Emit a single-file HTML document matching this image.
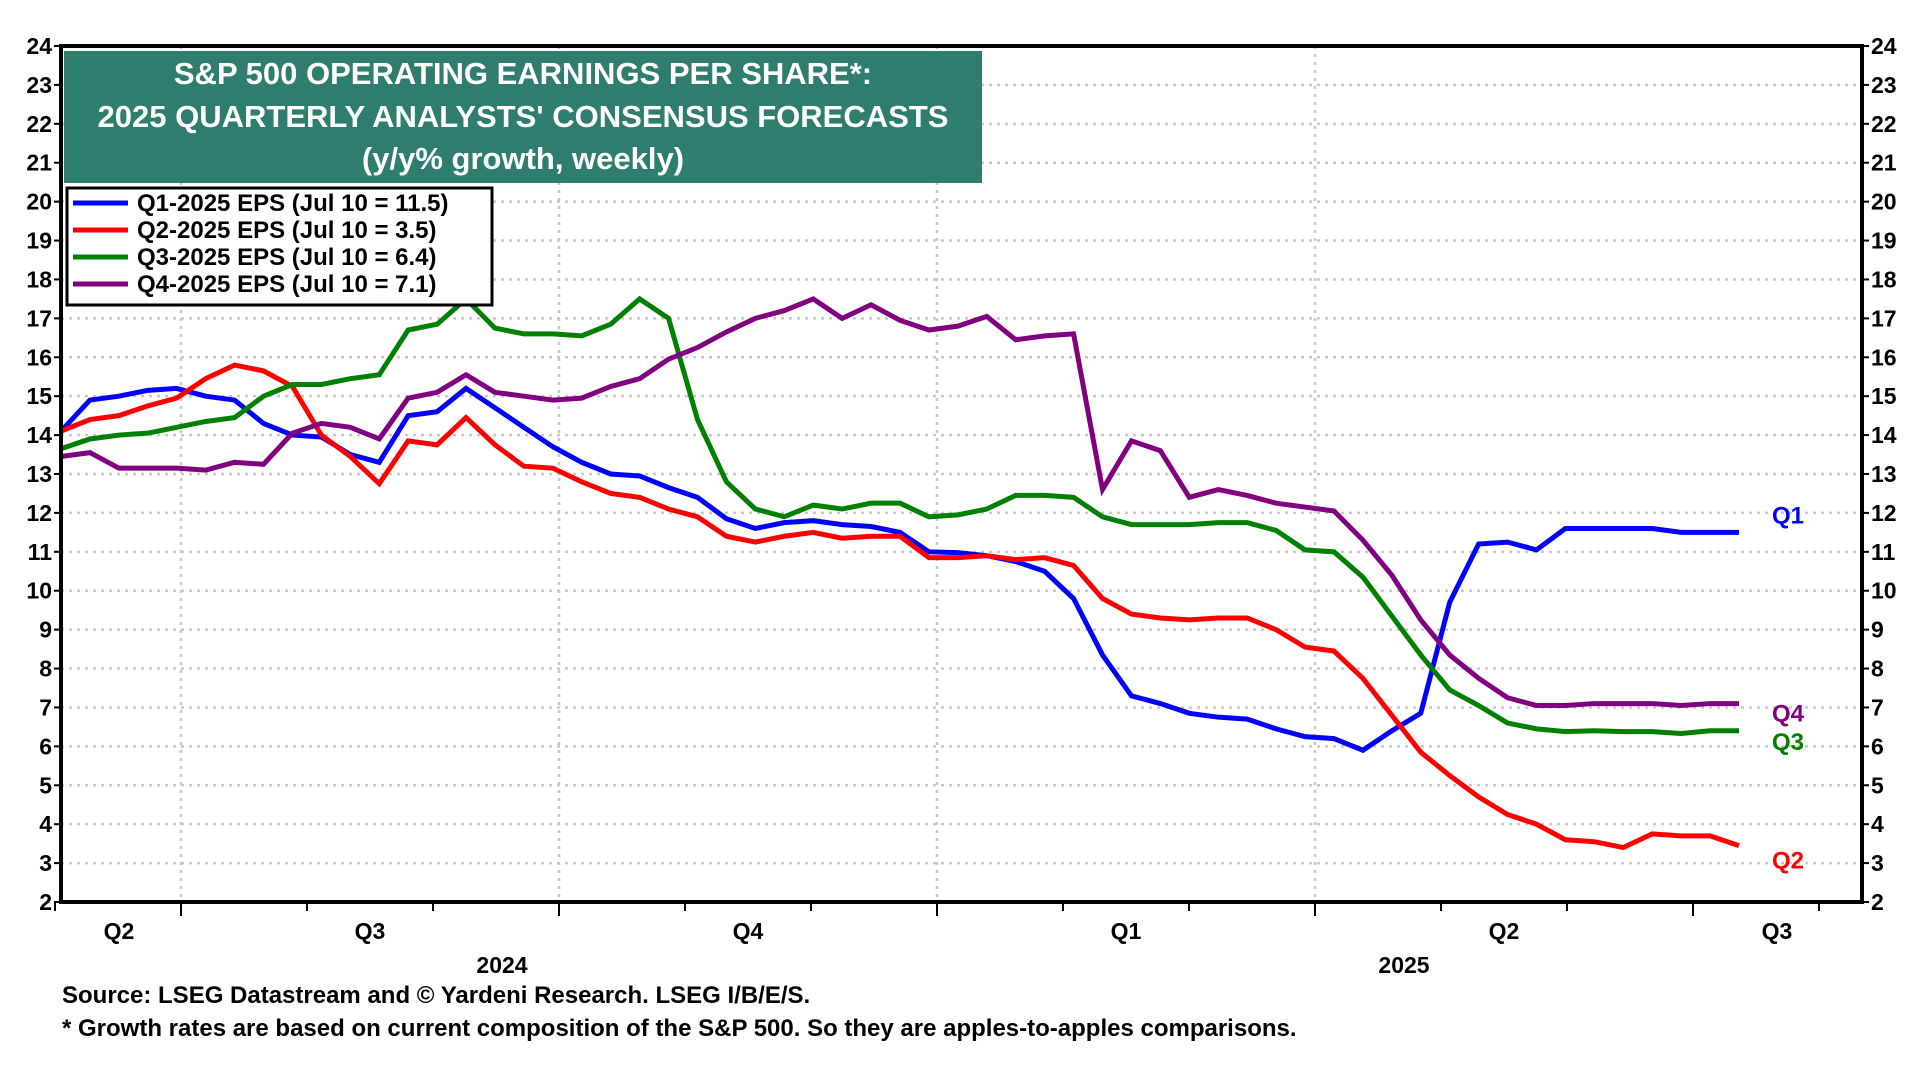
<!DOCTYPE html>
<html><head><meta charset="utf-8"><style>
html,body{margin:0;padding:0;background:#fff;width:1920px;height:1080px;overflow:hidden}
svg text{font-family:"Liberation Sans",Arial,sans-serif;font-weight:bold}
</style></head><body>
<svg id="chart" width="1920" height="1080" xmlns="http://www.w3.org/2000/svg">
<g id="grid"></g>
<g id="series"></g>
<g id="axes"></g>
<g>
<rect x="64" y="51" width="918" height="132" fill="#2e7d6e"/>
<text x="523" y="84" fill="#fff" font-size="31" text-anchor="middle">S&amp;P 500 OPERATING EARNINGS PER SHARE*:</text>
<text x="523" y="127" fill="#fff" font-size="31" text-anchor="middle">2025 QUARTERLY ANALYSTS' CONSENSUS FORECASTS</text>
<text x="523" y="169" fill="#fff" font-size="31" text-anchor="middle">(y/y% growth, weekly)</text>
</g>
<g id="legend">
<rect x="67" y="188" width="425" height="117" fill="#fff" stroke="#000" stroke-width="3"/>
</g>
<text x="62" y="1003" font-size="24">Source: LSEG Datastream and © Yardeni Research. LSEG I/B/E/S.</text>
<text x="62" y="1036" font-size="24">* Growth rates are based on current composition of the S&amp;P 500. So they are apples-to-apples comparisons.</text>
</svg>
<script>
const q1 = [14.1,14.9,15.0,15.15,15.2,15.0,14.9,14.3,14.0,13.95,13.5,13.3,14.5,14.6,15.2,14.7,14.2,13.7,13.3,13.0,12.95,12.65,12.4,11.85,11.6,11.75,11.8,11.7,11.65,11.5,11.0,10.98,10.9,10.75,10.5,9.8,8.35,7.3,7.1,6.85,6.75,6.7,6.45,6.25,6.2,5.9,6.4,6.85,9.7,11.2,11.25,11.05,11.6,11.6,11.6,11.6,11.5,11.5,11.5];
const q2 = [14.1,14.4,14.5,14.75,14.95,15.45,15.8,15.65,15.25,14.0,13.45,12.75,13.85,13.75,14.45,13.75,13.2,13.15,12.8,12.5,12.4,12.1,11.9,11.4,11.25,11.4,11.5,11.35,11.4,11.4,10.85,10.85,10.9,10.8,10.85,10.65,9.8,9.4,9.3,9.25,9.3,9.3,9.0,8.55,8.45,7.75,6.8,5.85,5.25,4.7,4.25,4.0,3.6,3.55,3.4,3.75,3.7,3.7,3.45];
const q3 = [13.65,13.9,14.0,14.05,14.2,14.35,14.45,15.0,15.3,15.3,15.45,15.55,16.7,16.85,17.5,16.75,16.6,16.6,16.55,16.85,17.5,17.0,14.4,12.8,12.1,11.9,12.2,12.1,12.25,12.25,11.9,11.95,12.1,12.45,12.45,12.4,11.9,11.7,11.7,11.7,11.75,11.75,11.55,11.05,11.0,10.35,9.35,8.35,7.45,7.05,6.6,6.45,6.38,6.4,6.38,6.38,6.33,6.4,6.4];
const q4 = [13.45,13.55,13.15,13.15,13.15,13.1,13.3,13.25,14.05,14.3,14.2,13.9,14.95,15.1,15.55,15.1,15.0,14.9,14.95,15.25,15.45,15.95,16.25,16.65,17.0,17.2,17.5,17.0,17.35,16.95,16.7,16.8,17.05,16.45,16.55,16.6,12.6,13.85,13.6,12.4,12.6,12.45,12.25,12.15,12.05,11.3,10.4,9.25,8.35,7.75,7.25,7.05,7.05,7.1,7.1,7.1,7.05,7.1,7.1];
const seriesNames = ["Q1","Q2","Q3","Q4"];
const legendLabels = ["Q1-2025 EPS (Jul 10 = 11.5)","Q2-2025 EPS (Jul 10 = 3.5)","Q3-2025 EPS (Jul 10 = 6.4)","Q4-2025 EPS (Jul 10 = 7.1)"];
const yTicks = [2,3,4,5,6,7,8,9,10,11,12,13,14,15,16,17,18,19,20,21,22,23,24];
const quarterLabels = ["Q2","Q3","Q4","Q1","Q2","Q3"];
const yearLabels = ["2024","2025"];

const NS="http://www.w3.org/2000/svg";
const L=61,R=1862,T=46,B=902,X0=61,X1=1739;
const colors=["#0000ff","#ff0000","#008000","#800080"];
const allSeries=[q1,q2,q3,q4];
const endLabelShift=[-9,23,19,18];
function ys(v){return B-(v-2)*(B-T)/22;}
function xs(i){return X0+i*(X1-X0)/(q1.length-1);}
function qx(m){return 181+m*(1693-181)/12;}
function mk(tag,attrs,parent,text){const e=document.createElementNS(NS,tag);for(const k in attrs)e.setAttribute(k,attrs[k]);if(text!==undefined)e.textContent=text;parent.appendChild(e);return e;}
const grid=document.getElementById('grid'),axes=document.getElementById('axes'),ser=document.getElementById('series'),leg=document.getElementById('legend'),svg=document.getElementById('chart');
yTicks.forEach(v=>{
  const y=ys(v);
  if(v>2&&v<24){const g=mk('line',{x1:L,x2:R,y1:y,y2:y,stroke:'#c8c8c8','stroke-width':2.5,'stroke-dasharray':'3 5'},grid);
  
  }
  mk('line',{x1:L-7,x2:L,y1:y,y2:y,stroke:'#000','stroke-width':2},axes);
  mk('line',{x1:R,x2:R+7,y1:y,y2:y,stroke:'#000','stroke-width':2},axes);
  const t1=mk('text',{x:L-9,y:y+8,'font-size':23,'text-anchor':'end'},axes,String(v));
  
  
  const t2=mk('text',{x:R+9,y:y+8,'font-size':23},axes,String(v));
  
  
});
for(let q=0;q<=3;q++){const x=qx(q*3);const g=mk('line',{x1:x,x2:x,y1:T,y2:B,stroke:'#c8c8c8','stroke-width':2.5,'stroke-dasharray':'3 5'},grid);

}
for(let m=-1;m<=13;m++){const x=qx(m);const long=(m%3===0);mk('line',{x1:x,x2:x,y1:B,y2:B+(long?14:9),stroke:'#000','stroke-width':2},axes);}
quarterLabels.forEach((s,i)=>{const x=i===0?119:(i===5?1777:(qx((i-1)*3)+qx(i*3))/2);
const t=mk('text',{x:x,y:939,'font-size':23,'text-anchor':'middle'},axes,s);

});
yearLabels.forEach((s,i)=>{const t=mk('text',{x:i===0?502:1404,y:973,'font-size':23,'text-anchor':'middle'},axes,s);

});
mk('rect',{x:L,y:T,width:R-L,height:B-T,fill:'none',stroke:'#000','stroke-width':4},axes);
allSeries.forEach((d,si)=>{
  const p=mk('polyline',{points:d.map((v,i)=>xs(i)+','+ys(v)).join(' '),fill:'none',stroke:colors[si],'stroke-width':5,'stroke-linejoin':'miter'},ser);
  
  
  const last=d[d.length-1];
  const t=mk('text',{x:1772,y:ys(last)+endLabelShift[si],'font-size':24,fill:colors[si]},svg,seriesNames[si]);
  
  
  const ly=203+si*27;
  mk('line',{x1:73,x2:128,y1:ly,y2:ly,stroke:colors[si],'stroke-width':5},leg);
  const lt=mk('text',{x:137,y:ly+8,'font-size':24},leg,legendLabels[si]);
  
  
});
</script>
</body></html>
